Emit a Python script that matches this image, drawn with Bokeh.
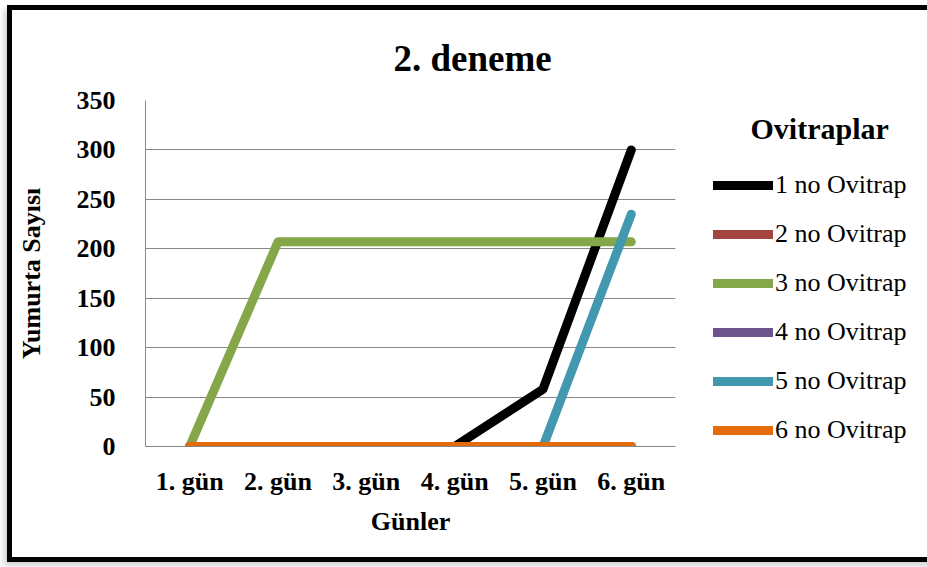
from bokeh.plotting import figure
from bokeh.models import FactorRange, Range1d, Legend, LegendItem, Title
from bokeh.embed import file_html
from bokeh.resources import INLINE

days = ["1. gün", "2. gün", "3. gün", "4. gün", "5. gün", "6. gün"]
series_names = ["1 no Ovitrap", "2 no Ovitrap", "3 no Ovitrap", "4 no Ovitrap", "5 no Ovitrap", "6 no Ovitrap"]
ov1 = [0, 0, 0, 0, 58, 300]
ov2 = [0, 0, 0, 0, 0, 0]
ov3 = [0, 207, 207, 207, 207, 207]
ov4 = [0, 0, 0, 0, 0, 0]
ov5 = [0, 0, 0, 0, 0, 235]
ov6 = [0, 0, 0, 0, 0, 0]
colors = ["#000000", "#A5443F", "#86A64A", "#6E548D", "#4198AF", "#E46C0A"]
y_ticks = [0, 50, 100, 150, 200, 250, 300, 350]
legend_title = "Ovitraplar"

FONT = "Liberation Serif"

p = figure(x_range=FactorRange(*days), y_range=Range1d(0, 350),
           frame_width=530, frame_height=346,
           min_border_left=133, min_border_top=90, min_border_right=251, min_border_bottom=111,
           output_backend="svg", toolbar_location=None)
p.styles = {"border": "5px solid black", "border-right": "none",
            "margin-left": "7px", "margin-top": "5px",
            "box-shadow": "-3px 4px 6px rgba(0,0,0,0.18)"}

p.title = Title(text="2. deneme", align="left", offset=248,
                text_font=FONT, text_font_size="37px", text_font_style="bold",
                text_color="black", standoff=44)

p.outline_line_color = None
p.xgrid.grid_line_color = None
p.ygrid.grid_line_color = "#868686"
p.ygrid.grid_line_width = 1
p.yaxis.ticker = y_ticks

for ax in (p.xaxis, p.yaxis):
    ax.axis_line_color = "#868686"
    ax.major_tick_line_color = None
    ax.minor_tick_line_color = None
    ax.major_label_text_font = FONT
    ax.major_label_text_font_size = "26px"
    ax.major_label_text_font_style = "bold"
    ax.major_label_text_color = "black"
    ax.axis_label_text_font = FONT
    ax.axis_label_text_font_size = "26px"
    ax.axis_label_text_font_style = "bold"
    ax.axis_label_text_color = "black"
p.xaxis.axis_label = "Günler"
p.yaxis.axis_label = "Yumurta Sayısı"
p.xaxis.major_label_standoff = 14
p.xaxis.axis_label_standoff = 8
p.yaxis.major_label_standoff = 24
p.yaxis.axis_label_standoff = 28

items = []
for name, vals, c in zip(series_names, [ov1, ov2, ov3, ov4, ov5, ov6], colors):
    r = p.line(days, vals, line_color=c, line_width=9, line_cap="round", line_join="round")
    items.append(LegendItem(label=name, renderers=[r]))

legend = Legend(items=items, location=(38, 1), glyph_width=60, glyph_height=30,
                label_height=30, label_standoff=2, spacing=19, padding=0, margin=0,
                border_line_color=None, background_fill_alpha=0,
                title="\u00a0" * 5 + legend_title, title_standoff=24,
                title_text_font=FONT, title_text_font_size="30px",
                title_text_font_style="bold", title_text_color="black",
                label_text_font=FONT, label_text_font_size="26px", label_text_color="black")
p.add_layout(legend, "right")

open("out.html", "w").write(file_html(p, INLINE))
